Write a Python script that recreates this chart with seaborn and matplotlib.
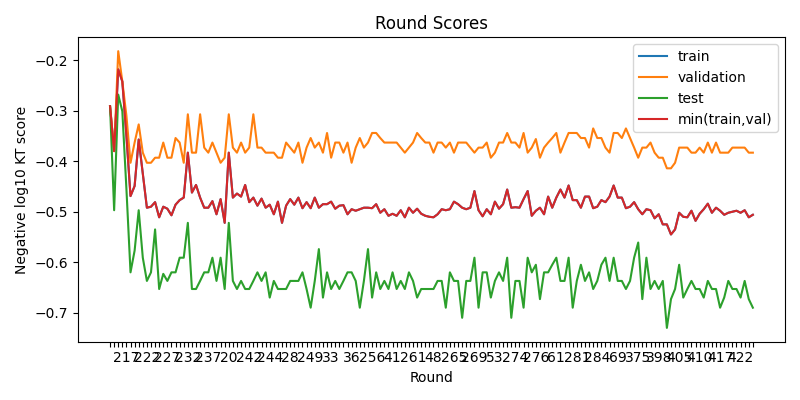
import numpy as np
import pandas as pd
import matplotlib
matplotlib.use("Agg")
import matplotlib.pyplot as plt
import seaborn as sns

# scores per round
train = [
    -0.291, -0.380, -0.218, -0.242, -0.350, -0.469, -0.449, -0.357, -0.425, -0.492,
    -0.490, -0.481, -0.511, -0.490, -0.494, -0.507, -0.486, -0.477, -0.472, -0.383,
    -0.462, -0.447, -0.472, -0.492, -0.492, -0.479, -0.505, -0.475, -0.522, -0.383,
    -0.472, -0.464, -0.470, -0.447, -0.481, -0.472, -0.488, -0.474, -0.492, -0.486,
    -0.505, -0.480, -0.522, -0.488, -0.475, -0.486, -0.472, -0.493, -0.481, -0.493,
    -0.472, -0.492, -0.485, -0.485, -0.480, -0.494, -0.488, -0.487, -0.505, -0.495,
    -0.498, -0.495, -0.492, -0.492, -0.493, -0.485, -0.502, -0.495, -0.508, -0.504,
    -0.508, -0.497, -0.511, -0.492, -0.502, -0.494, -0.504, -0.508, -0.510, -0.511,
    -0.505, -0.495, -0.497, -0.495, -0.480, -0.485, -0.492, -0.495, -0.492, -0.459,
    -0.497, -0.509, -0.495, -0.505, -0.480, -0.494, -0.485, -0.456, -0.492, -0.491,
    -0.492, -0.475, -0.459, -0.508, -0.498, -0.492, -0.505, -0.470, -0.492, -0.472,
    -0.456, -0.472, -0.448, -0.477, -0.477, -0.492, -0.470, -0.470, -0.493, -0.490,
    -0.477, -0.481, -0.470, -0.448, -0.472, -0.472, -0.493, -0.490, -0.481, -0.495,
    -0.505, -0.495, -0.497, -0.513, -0.505, -0.525, -0.525, -0.545, -0.535, -0.502,
    -0.510, -0.511, -0.498, -0.518, -0.504, -0.495, -0.484, -0.502, -0.492, -0.498,
    -0.506, -0.502, -0.500, -0.498, -0.502, -0.497, -0.511, -0.506,
]

validation = [
    -0.291, -0.380, -0.182, -0.242, -0.310, -0.403, -0.363, -0.327, -0.383, -0.403,
    -0.403, -0.393, -0.393, -0.363, -0.393, -0.393, -0.354, -0.363, -0.403, -0.307,
    -0.383, -0.383, -0.307, -0.373, -0.383, -0.363, -0.383, -0.403, -0.393, -0.307,
    -0.373, -0.383, -0.363, -0.383, -0.373, -0.307, -0.373, -0.373, -0.383, -0.383,
    -0.383, -0.393, -0.393, -0.363, -0.373, -0.383, -0.363, -0.403, -0.373, -0.354,
    -0.373, -0.363, -0.383, -0.344, -0.393, -0.363, -0.363, -0.383, -0.363, -0.403,
    -0.373, -0.354, -0.373, -0.363, -0.344, -0.344, -0.354, -0.363, -0.363, -0.363,
    -0.363, -0.373, -0.383, -0.373, -0.363, -0.344, -0.354, -0.363, -0.363, -0.383,
    -0.363, -0.363, -0.373, -0.363, -0.383, -0.363, -0.363, -0.363, -0.373, -0.383,
    -0.373, -0.373, -0.363, -0.393, -0.383, -0.363, -0.363, -0.344, -0.363, -0.363,
    -0.373, -0.344, -0.383, -0.373, -0.356, -0.393, -0.373, -0.363, -0.354, -0.344,
    -0.383, -0.363, -0.344, -0.344, -0.344, -0.354, -0.354, -0.373, -0.335, -0.354,
    -0.354, -0.373, -0.383, -0.344, -0.344, -0.354, -0.335, -0.354, -0.373, -0.393,
    -0.373, -0.373, -0.363, -0.383, -0.393, -0.393, -0.414, -0.414, -0.403, -0.373,
    -0.373, -0.373, -0.383, -0.383, -0.373, -0.383, -0.363, -0.383, -0.363, -0.383,
    -0.383, -0.383, -0.373, -0.373, -0.373, -0.373, -0.383, -0.383,
]

test = [
    -0.291, -0.497, -0.268, -0.301, -0.455, -0.620, -0.577, -0.497, -0.591, -0.637,
    -0.620, -0.535, -0.653, -0.623, -0.637, -0.620, -0.620, -0.591, -0.591, -0.522,
    -0.653, -0.653, -0.637, -0.620, -0.620, -0.591, -0.637, -0.591, -0.653, -0.522,
    -0.637, -0.653, -0.637, -0.653, -0.653, -0.637, -0.620, -0.637, -0.620, -0.670,
    -0.637, -0.653, -0.653, -0.653, -0.637, -0.637, -0.637, -0.620, -0.653, -0.690,
    -0.637, -0.574, -0.670, -0.620, -0.653, -0.637, -0.653, -0.637, -0.620, -0.620,
    -0.637, -0.690, -0.637, -0.574, -0.670, -0.620, -0.653, -0.637, -0.653, -0.620,
    -0.653, -0.637, -0.653, -0.620, -0.637, -0.670, -0.653, -0.653, -0.653, -0.653,
    -0.637, -0.637, -0.690, -0.620, -0.637, -0.637, -0.710, -0.637, -0.637, -0.591,
    -0.690, -0.620, -0.620, -0.670, -0.637, -0.620, -0.637, -0.591, -0.710, -0.637,
    -0.637, -0.690, -0.591, -0.620, -0.605, -0.673, -0.620, -0.620, -0.605, -0.591,
    -0.637, -0.637, -0.591, -0.690, -0.637, -0.605, -0.637, -0.620, -0.653, -0.637,
    -0.605, -0.591, -0.637, -0.591, -0.637, -0.637, -0.653, -0.637, -0.591, -0.561,
    -0.673, -0.591, -0.653, -0.637, -0.653, -0.637, -0.730, -0.673, -0.653, -0.605,
    -0.670, -0.653, -0.637, -0.653, -0.653, -0.670, -0.637, -0.653, -0.653, -0.690,
    -0.670, -0.637, -0.653, -0.653, -0.670, -0.637, -0.673, -0.690,
]

# round names shown under every 5th tick
round_labels = ["217", "222", "227", "232", "237", "20", "242", "244", "28", "249",
                "33", "36", "256", "41", "261", "48", "265", "269", "53", "274",
                "276", "61", "281", "284", "69", "375", "398", "405", "410", "417", "422"]

df = pd.DataFrame({"train": train, "validation": validation, "test": test})
df["min(train,val)"] = np.minimum(df["train"], df["validation"])
df["idx"] = np.arange(len(df))

fig, ax = plt.subplots(figsize=(8, 4), dpi=100)
for i, col in enumerate(["train", "validation", "test", "min(train,val)"]):
    sns.lineplot(data=df, x="idx", y=col, label=col, color=f"C{i}", ax=ax)

# a tick for each round, a label on every 5th
labels = [""] * len(df)
for k, lab in enumerate(round_labels):
    labels[4 + 5 * k] = lab
ax.set_xticks(df["idx"])
ax.set_xticklabels(labels)

ax.set_title("Round Scores")
ax.set_xlabel("Round")
ax.set_ylabel("Negative log10 KT score")
ax.legend(loc="upper right")
plt.tight_layout()
plt.savefig("out.png")
